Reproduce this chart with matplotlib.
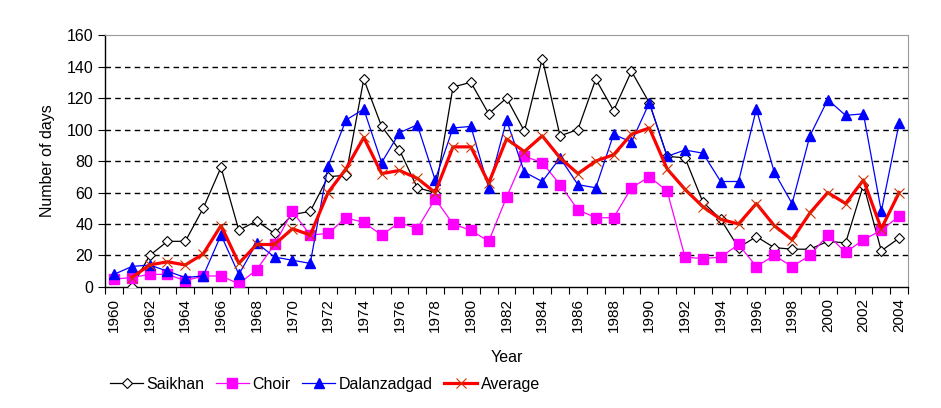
import numpy as np
import matplotlib
matplotlib.use('Agg')
import matplotlib.pyplot as plt
from matplotlib.ticker import FixedLocator

# ---------------- data ----------------
years = list(range(1960, 2005))
nan = np.nan

saikhan = [nan, 0, 20, 29, 29, 50, 76, 36, 42, 34, 46, 48,
           70, 71, 132, 102, 87, 63, 60, 127, 130, 110, 120, 99,
           145, 96, 100, 132, 112, 137, 117, 83, 82, 54, 43, 25,
           32, 25, 24, 24, 29, 28, 65, 23, 31]
choir = [5, 6, 8, 8, 4, 7, 7, 2, 11, 27, 48, 33,
         34, 44, 41, 33, 41, 37, 56, 40, 36, 29, 57, 83,
         79, 65, 49, 44, 44, 63, 70, 61, 19, 18, 19, 27,
         13, 20, 13, 20, 33, 22, 30, 36, 45]
dalanzadgad = [8, 13, 14, 10, 6, 7, 33, 8, 28, 19, 17, 15,
               77, 106, 113, 79, 98, 103, 68, 101, 102, 63, 106, 73,
               67, 82, 65, 63, 97, 92, 117, 83, 87, 85, 67, 67,
               113, 73, 53, 96, 119, 109, 110, 48, 104]
average = [nan, 6, 14, 16, 14, 21, 39, 15, 27, 27, 37, 33,
           60, 75, 95, 72, 74, 69, 60, 89, 89, 66, 94, 86,
           96, 82, 72, 80, 84, 97, 101, 75, 62, 51, 43, 40,
           53, 39, 30, 47, 60, 53, 68, 37, 60]

y_ticks = [0, 20, 40, 60, 80, 100, 120, 140, 160]
x_labels = list(range(1960, 2005, 2))

# ---------------- figure ----------------
plt.rcParams['font.family'] = ['Liberation Sans', 'DejaVu Sans']

fig = plt.figure(figsize=(9.41, 4.08), dpi=100)
ax = fig.add_axes([0.1116, 0.2966, 0.8534, 0.6174])

ax.plot(years, saikhan, color='black', lw=0.9, marker='D', ms=5,
        mfc='white', mec='black', mew=0.8, label='Saikhan', zorder=3)
ax.plot(years, choir, color='#ff00ff', lw=0.9, marker='s', ms=6.5,
        mfc='#ff00ff', mec='#ff00ff', label='Choir', zorder=3)
ax.plot(years, dalanzadgad, color='#0000ff', lw=0.9, marker='^', ms=7.5,
        mfc='#0000ff', mec='#0000ff', label='Dalanzadgad', zorder=3)
ax.plot(years, average, color='#ff0000', lw=2.3, marker='x', ms=7,
        mec='#cc3300', mew=0.8, label='Average', zorder=4)

ax.set_xlim(1959.5, 2004.5)
ax.set_ylim(0, 160)
ax.set_yticks(y_ticks)
ax.set_xticks(x_labels)
ax.set_xticklabels([str(y) for y in x_labels], rotation=90)
ax.xaxis.set_minor_locator(FixedLocator([y - 0.5 for y in years] + [2004.5]))
ax.tick_params(axis='x', which='major', length=0, pad=8, labelsize=11)
ax.tick_params(axis='x', which='minor', length=5, width=0.8, direction='out')
ax.tick_params(axis='y', length=5, width=0.8, direction='out', labelsize=11.5)

for v in y_ticks[1:-1]:
    ax.axhline(v, color='black', lw=1, ls=(0, (4, 3)), zorder=1)

for side in ['top', 'right']:
    ax.spines[side].set_color('#999999')
ax.spines['left'].set_linewidth(1)
ax.spines['bottom'].set_linewidth(1)

ax.set_xlabel('Year', fontsize=11.5, labelpad=13)
ax.set_ylabel('Number of days', fontsize=11.5, labelpad=8)

ax.legend(loc='upper left', bbox_to_anchor=(-0.012, -0.30), ncol=4,
          frameon=False, fontsize=11.5, handlelength=2.1, handletextpad=0.2,
          columnspacing=0.7)

fig.savefig('out.png', dpi=100)
